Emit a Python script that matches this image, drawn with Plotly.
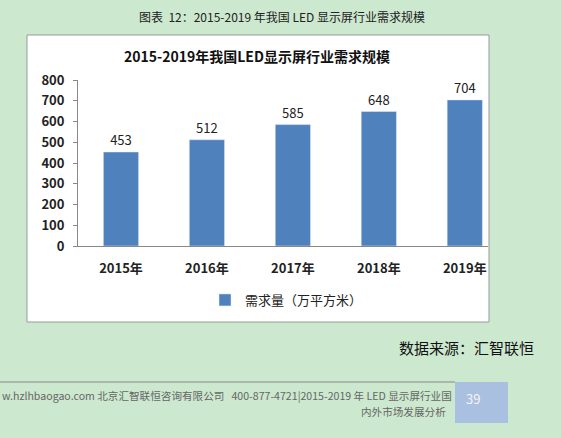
import plotly.graph_objects as go

years = ["2015年", "2016年", "2017年", "2018年", "2019年"]
demand = [453, 512, 585, 648, 704]
y_ticks = [0, 100, 200, 300, 400, 500, 600, 700, 800]

W, H = 561, 438
FONT = "Noto Sans CJK SC"


def px_x(x):
    return x / W


def px_y(y):
    return 1 - y / H


fig = go.Figure()
fig.add_trace(go.Bar(
    x=list(range(len(years))), y=demand, name="需求量（万平方米）",
    marker=dict(color="#4f81bd"), width=0.41,
    text=demand, textposition="outside", cliponaxis=False,
    textfont=dict(size=13, color="#222", family=FONT),
))

shapes = [
    dict(type="rect", xref="paper", yref="paper", x0=px_x(27), x1=px_x(489),
         y0=px_y(322), y1=px_y(35), fillcolor="white", line=dict(color="#9a9a9a", width=1), layer="below"),
    dict(type="line", xref="paper", yref="paper", x0=0, x1=px_x(455),
         y0=px_y(382), y1=px_y(382), line=dict(color="#8a8a8a", width=1)),
    dict(type="rect", xref="paper", yref="paper", x0=px_x(455), x1=px_x(508),
         y0=px_y(423), y1=px_y(382), fillcolor="#a9c0e0", line=dict(width=0)),
]

annotations = [
    dict(text="图表  12：2015-2019 年我国 LED 显示屏行业需求规模", x=px_x(282), y=px_y(16),
         font=dict(size=12, color="#222", family=FONT)),
    dict(text="<b>2015-2019年我国LED显示屏行业需求规模</b>", x=px_x(257), y=px_y(56),
         font=dict(size=14, color="#111", family=FONT)),
    dict(text="数据来源：汇智联恒", x=px_x(536), y=px_y(347), xanchor="right",
         font=dict(size=15, color="#111", family=FONT)),
    dict(text="w.hzlhbaogao.com 北京汇智联恒咨询有限公司   400-877-4721|2015-2019 年 LED 显示屏行业国",
         x=0, y=px_y(395), xanchor="left", font=dict(size=10.6, color="#666", family=FONT)),
    dict(text="内外市场发展分析", x=px_x(448), y=px_y(411), xanchor="right",
         font=dict(size=10.6, color="#666", family=FONT)),
    dict(text="39", x=px_x(482), y=px_y(398), font=dict(size=13, color="#f4f4f4", family=FONT)),
]
for a in annotations:
    a.update(xref="paper", yref="paper", showarrow=False, yanchor="middle")

fig.update_layout(
    width=W, height=H, margin=dict(l=0, r=0, t=0, b=0),
    paper_bgcolor="#cce8cf", plot_bgcolor="rgba(0,0,0,0)",
    shapes=shapes, annotations=annotations,
    showlegend=True,
    legend=dict(x=px_x(205), y=px_y(300), xanchor="left", yanchor="middle",
                bgcolor="rgba(0,0,0,0)", font=dict(size=13, color="#222", family=FONT)),
    xaxis=dict(domain=[px_x(78), px_x(488)], range=[-0.5, 4.27], automargin=False,
               tickvals=list(range(len(years))), ticktext=["<b>%s</b>" % y for y in years],
               showline=True, linecolor="#888", ticks="", showgrid=False, ticklabelstandoff=10,
               tickfont=dict(size=13, color="#222", family=FONT)),
    yaxis=dict(domain=[px_y(246), px_y(80)], range=[0, 800], tickvals=y_ticks, automargin=False,
               ticktext=["<b>%d</b>" % v for v in y_ticks],
               showline=True, linecolor="#888", ticks="outside", ticklen=4, tickcolor="#888",
               showgrid=False, zeroline=False, ticklabelstandoff=6,
               tickfont=dict(size=13, color="#222", family=FONT)),
)

# the page's default body margin would shift the figure by 8px
fig.write_html("out.html", config={"displayModeBar": False},
               post_script="document.body.style.margin='0px';document.body.style.overflow='hidden';")
